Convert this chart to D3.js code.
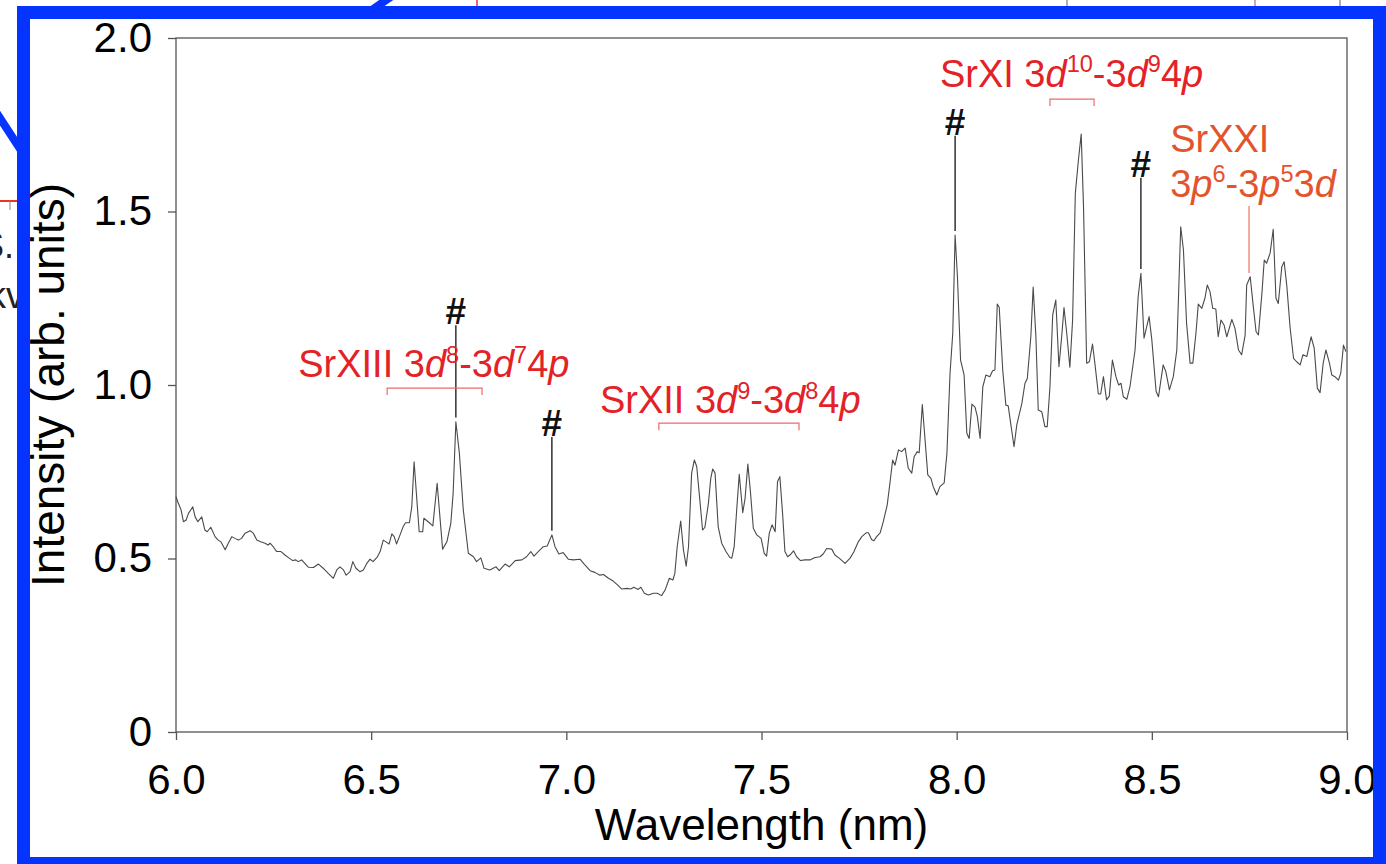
<!DOCTYPE html>
<html>
<head>
    <meta charset="utf-8">
    <style>
        body { margin: 0; background: #fff; }
        svg { display: block; }
        text { font-family: "Liberation Sans", Arial, Helvetica, sans-serif; }
        .tick text { font-size: 42px; fill: #000; }
        .tick line { stroke: #555; stroke-width: 1.3; }
    </style>
</head>
<body>
    <svg width="1386" height="864"></svg>

    <script src="https://cdnjs.cloudflare.com/ajax/libs/d3/7.8.5/d3.min.js"></script>

    <script>
        // spectrum
        var wavelength = [
            6.000,6.006,6.013,6.019,6.026,6.032,6.043,6.049,6.056,6.066,
            6.074,6.080,6.089,6.100,6.108,6.115,6.126,6.134,6.143,6.151,
            6.160,6.168,6.177,6.190,6.198,6.207,6.217,6.228,6.236,6.241,
            6.249,6.258,6.269,6.279,6.290,6.299,6.307,6.313,6.322,6.330,
            6.339,6.352,6.365,6.377,6.390,6.403,6.412,6.420,6.429,6.436,
            6.446,6.453,6.461,6.471,6.480,6.489,6.497,6.505,6.516,6.523,
            6.531,6.538,6.546,6.553,6.559,6.565,6.574,6.582,6.588,6.598,
            6.604,6.610,6.623,6.632,6.635,6.646,6.658,6.669,6.683,6.694,
            6.704,6.710,6.717,6.726,6.736,6.749,6.762,6.770,6.781,6.789,
            6.804,6.820,6.828,6.843,6.854,6.869,6.886,6.898,6.909,6.917,
            6.928,6.941,6.951,6.963,6.971,6.981,6.992,7.005,7.018,7.035,
            7.048,7.061,7.073,7.086,7.095,7.108,7.120,7.131,7.142,7.155,
            7.165,7.173,7.184,7.191,7.200,7.210,7.223,7.233,7.244,7.253,
            7.264,7.273,7.278,7.284,7.293,7.300,7.307,7.313,7.321,7.328,
            7.334,7.342,7.349,7.355,7.364,7.370,7.375,7.381,7.389,7.398,
            7.409,7.419,7.424,7.430,7.437,7.443,7.452,7.458,7.465,7.472,
            7.479,7.488,7.499,7.507,7.513,7.520,7.527,7.535,7.541,7.547,
            7.554,7.560,7.567,7.573,7.582,7.590,7.600,7.611,7.624,7.637,
            7.650,7.658,7.667,7.680,7.688,7.699,7.714,7.727,7.737,7.748,
            7.757,7.768,7.774,7.782,7.788,7.795,7.804,7.812,7.822,7.829,
            7.836,7.842,7.851,7.859,7.868,7.876,7.885,7.891,7.899,7.904,
            7.912,7.919,7.926,7.934,7.940,7.949,7.957,7.968,7.975,7.983,
            7.990,7.996,8.002,8.010,8.019,8.026,8.032,8.039,8.047,8.053,
            8.060,8.067,8.075,8.085,8.092,8.098,8.104,8.109,8.118,8.126,
            8.132,8.147,8.154,8.167,8.175,8.181,8.190,8.196,8.203,8.209,
            8.218,8.226,8.232,8.239,8.246,8.254,8.262,8.269,8.275,8.282,
            8.290,8.297,8.304,8.312,8.319,8.325,8.333,8.340,8.348,8.354,
            8.363,8.369,8.376,8.384,8.391,8.399,8.408,8.415,8.421,8.427,8.436,8.444,
            8.457,8.465,8.472,8.480,8.493,8.500,8.511,8.517,8.529,8.536,
            8.545,8.555,8.564,8.574,8.581,8.589,8.598,8.605,8.613,8.619,
            8.628,8.636,8.642,8.649,8.656,8.664,8.670,8.677,8.685,8.692,
            8.705,8.713,8.722,8.730,8.739,8.743,8.752,8.760,8.767,8.773,
            8.782,8.788,8.794,8.803,8.811,8.818,8.824,8.833,8.839,8.846,
            8.854,8.863,8.871,8.880,8.887,8.897,8.908,8.916,8.924,8.931,
            8.939,8.946,8.955,8.961,8.969,8.978,8.984,8.991,8.997
        ];
        var intensity = [
            0.678,0.659,0.640,0.606,0.611,0.630,0.649,0.620,0.606,0.620,
            0.582,0.577,0.590,0.563,0.553,0.548,0.525,0.544,0.563,0.558,
            0.553,0.558,0.573,0.580,0.573,0.553,0.548,0.544,0.539,0.544,
            0.534,0.520,0.520,0.510,0.501,0.494,0.496,0.491,0.496,0.486,
            0.475,0.474,0.484,0.472,0.457,0.443,0.467,0.476,0.467,0.452,
            0.462,0.491,0.472,0.462,0.467,0.486,0.498,0.491,0.505,0.520,
            0.553,0.548,0.542,0.571,0.563,0.542,0.568,0.592,0.603,0.603,
            0.649,0.779,0.577,0.577,0.616,0.606,0.594,0.717,0.527,0.548,
            0.601,0.688,0.894,0.803,0.640,0.515,0.505,0.491,0.502,0.472,
            0.467,0.476,0.465,0.484,0.476,0.494,0.496,0.505,0.520,0.507,
            0.520,0.534,0.536,0.568,0.534,0.513,0.517,0.498,0.496,0.498,
            0.481,0.465,0.460,0.452,0.454,0.443,0.435,0.424,0.412,0.414,
            0.412,0.417,0.411,0.417,0.400,0.395,0.400,0.400,0.393,0.409,
            0.443,0.438,0.457,0.534,0.608,0.525,0.478,0.534,0.746,0.784,
            0.765,0.669,0.582,0.590,0.659,0.731,0.758,0.746,0.592,0.544,
            0.520,0.503,0.501,0.534,0.649,0.743,0.632,0.674,0.772,0.688,
            0.587,0.568,0.558,0.515,0.507,0.573,0.597,0.577,0.721,0.736,
            0.630,0.520,0.505,0.510,0.522,0.505,0.494,0.496,0.496,0.503,
            0.505,0.513,0.529,0.527,0.510,0.501,0.486,0.501,0.520,0.548,
            0.563,0.574,0.574,0.555,0.551,0.563,0.574,0.606,0.654,0.717,
            0.784,0.769,0.813,0.808,0.818,0.760,0.746,0.793,0.808,0.805,
            0.944,0.842,0.741,0.731,0.707,0.683,0.707,0.718,0.803,1.034,
            1.149,1.432,1.312,1.072,1.029,0.861,0.846,0.945,0.936,0.909,
            0.846,0.995,1.029,1.024,1.041,1.043,1.233,1.224,1.043,0.942,
            0.940,0.822,0.885,0.947,1.005,1.019,1.139,1.282,1.139,0.928,
            0.923,0.880,0.880,0.995,1.202,1.245,1.053,1.139,1.223,1.149,
            1.051,1.187,1.553,1.649,1.723,1.514,1.063,1.067,1.118,1.063,
            0.974,0.974,1.024,0.957,0.968,1.072,1.024,1.000,1.005,0.966,0.959,0.995,
            1.101,1.255,1.322,1.135,1.197,1.130,0.981,0.966,1.058,1.038,
            0.986,1.024,1.101,1.456,1.389,1.178,1.063,1.063,1.149,1.233,
            1.221,1.250,1.288,1.269,1.221,1.219,1.139,1.187,1.173,1.139,
            1.189,1.163,1.101,1.087,1.144,1.288,1.312,1.226,1.154,1.144,
            1.264,1.360,1.351,1.380,1.449,1.250,1.235,1.341,1.355,1.283,
            1.168,1.077,1.067,1.058,1.087,1.082,1.139,1.106,0.991,0.978,
            1.063,1.101,1.063,1.029,1.024,1.014,1.034,1.115,1.096
        ];

        var xTicks = [6.0, 6.5, 7.0, 7.5, 8.0, 8.5, 9.0];
        var yTicks = [0, 0.5, 1.0, 1.5, 2.0];

        // "#" marks: peak wavelength, peak height, where the line starts
        var hashWl = [6.717, 6.963, 7.996, 8.472];
        var hashPeak = [0.894, 0.568, 1.432, 1.322];
        var hashTop = [1.172, 0.850, 1.718, 1.597];

        // transition labels, each with a bracket [from, to] at height bh
        var labels = [
            {parts: [["SrXIII 3"], ["d", "i"], ["8", "s"], ["-3"], ["d", "i"], ["7", "s"], ["4"], ["p", "i"]],
             wl: 6.313, h: 1.023, from: 6.541, to: 6.784, bh: 0.991, color: "#e32228"},
            {parts: [["SrXII 3"], ["d", "i"], ["9", "s"], ["-3"], ["d", "i"], ["8", "s"], ["4"], ["p", "i"]],
             wl: 7.086, h: 0.919, from: 7.237, to: 7.596, bh: 0.890, color: "#e32228"},
            {parts: [["SrXI 3"], ["d", "i"], ["10", "s"], ["-3"], ["d", "i"], ["9", "s"], ["4"], ["p", "i"]],
             wl: 7.957, h: 1.859, from: 8.239, to: 8.352, bh: 1.824, color: "#e32228"}
        ];
        var srxxiLines = [
            [["SrXXI"]],
            [["3"], ["p", "i"], ["6", "s"], ["-3"], ["p", "i"], ["5", "s"], ["3"], ["d", "i"]]
        ];
        var srxxiWl = 8.547, srxxiH = [1.671, 1.542];
        var srxxiMark = {wl: 8.749, from: 1.323, to: 1.516};

        var svg = d3.select("svg");
        var blue = "#0634ff";

        // leftovers of the parent figure outside the zoom frame
        var bg = svg.append("g");
        bg.append("line").attr("x1", 0).attr("y1", 201).attr("x2", 20).attr("y2", 201)
            .attr("stroke", "#ee3322").attr("stroke-width", 2);
        bg.append("line").attr("x1", 10).attr("y1", 201).attr("x2", 10).attr("y2", 210)
            .attr("stroke", "#888").attr("stroke-width", 1);
        [["#e33", 477], ["#999", 1067], ["#c88", 1255], ["#999", 1340]].forEach(function(s) {
            bg.append("line").attr("x1", s[1]).attr("x2", s[1]).attr("y1", 0).attr("y2", 8)
                .attr("stroke", s[0]).attr("stroke-width", 1.5);
        });
        bg.append("text").attr("x", 14).attr("y", 258).attr("text-anchor", "end")
            .attr("font-size", 36).attr("fill", "#222").text("S.");
        bg.append("text").attr("x", 24).attr("y", 308).attr("text-anchor", "end")
            .attr("font-size", 36).attr("fill", "#222").text("kv");
        bg.append("line").attr("x1", -4).attr("y1", 112).attr("x2", 26).attr("y2", 158)
            .attr("stroke", blue).attr("stroke-width", 8);
        bg.append("line").attr("x1", 392).attr("y1", -4).attr("x2", 366).attr("y2", 14)
            .attr("stroke", blue).attr("stroke-width", 8);

        var x = d3.scaleLinear().domain([6, 9]).range([176, 1347]);
        var y = d3.scaleLinear().domain([0, 2]).range([732, 38]);

        var gx = svg.append("g").attr("transform", "translate(0,732)")
            .call(d3.axisBottom(x).tickValues(xTicks).tickFormat(d3.format(".1f"))
                .tickSize(8).tickPadding(24));
        var gy = svg.append("g").attr("transform", "translate(176,0)")
            .call(d3.axisLeft(y).tickValues(yTicks)
                .tickFormat(function(d) { return d === 0 ? "0" : d3.format(".1f")(d); })
                .tickSize(8).tickPadding(16));
        gx.select(".domain").remove();
        gy.select(".domain").remove();
        gx.selectAll("text").attr("font-family", null);
        gy.selectAll("text").attr("font-family", null);

        svg.append("rect")
            .attr("x", x(6)).attr("y", y(2))
            .attr("width", x(9) - x(6)).attr("height", y(0) - y(2))
            .attr("fill", "none").attr("stroke", "#555").attr("stroke-width", 1.3);

        svg.append("text")
            .attr("x", (x(6) + x(9)) / 2).attr("y", 840)
            .attr("text-anchor", "middle").attr("font-size", 44)
            .text("Wavelength (nm)");
        svg.append("text")
            .attr("transform", "translate(64," + ((y(0) + y(2)) / 2) + ") rotate(-90)")
            .attr("text-anchor", "middle").attr("font-size", 46)
            .text("Intensity (arb. units)");

        var line = d3.line()
            .x(function(d) { return x(d[0]); })
            .y(function(d) { return y(d[1]); });
        svg.append("path")
            .datum(d3.zip(wavelength, intensity))
            .attr("d", line)
            .attr("fill", "none").attr("stroke", "#4a4a4a").attr("stroke-width", 1.1)
            .attr("stroke-linejoin", "round");

        // "#" marks
        hashWl.forEach(function(w, i) {
            svg.append("line")
                .attr("x1", x(w)).attr("x2", x(w))
                .attr("y1", y(hashTop[i])).attr("y2", y(hashPeak[i] + 0.012))
                .attr("stroke", "#111").attr("stroke-width", 1.3);
            svg.append("text")
                .attr("x", x(w)).attr("y", y(hashTop[i]) - 1)
                .attr("text-anchor", "middle").attr("font-size", 37)
                .attr("font-weight", "bold").attr("fill", "#111")
                .text("#");
        });

        function richText(t, parts, size) {
            var up = size * 0.38;
            var lift = false;
            parts.forEach(function(p) {
                var ts = t.append("tspan").text(p[0]);
                if (p[1] === "i") ts.attr("font-style", "italic");
                if (p[1] === "s") {
                    ts.attr("font-size", size * 0.62).attr("dy", -up);
                    lift = true;
                } else if (lift) {
                    ts.attr("dy", up);
                    lift = false;
                }
            });
        }

        labels.forEach(function(l) {
            var t = svg.append("text")
                .attr("x", x(l.wl)).attr("y", y(l.h))
                .attr("font-size", 38).attr("fill", l.color);
            richText(t, l.parts, 38);
            var b = y(l.bh);
            svg.append("path")
                .attr("d", "M" + x(l.from) + "," + (b + 7) + "V" + b + "H" + x(l.to) + "V" + (b + 7))
                .attr("fill", "none").attr("stroke", "#ee6a6a").attr("stroke-width", 1.2);
        });

        srxxiLines.forEach(function(parts, i) {
            var t = svg.append("text")
                .attr("x", x(srxxiWl)).attr("y", y(srxxiH[i]))
                .attr("font-size", 38).attr("fill", "#e4542c");
            richText(t, parts, 38);
        });
        svg.append("line")
            .attr("x1", x(srxxiMark.wl)).attr("x2", x(srxxiMark.wl))
            .attr("y1", y(srxxiMark.to)).attr("y2", y(srxxiMark.from))
            .attr("stroke", "#ec7458").attr("stroke-width", 1.2);

        // zoom frame
        svg.append("rect")
            .attr("x", 23.5).attr("y", 12.5).attr("width", 1356).attr("height", 851)
            .attr("fill", "none").attr("stroke", blue).attr("stroke-width", 13);
    </script>
</body>
</html>
